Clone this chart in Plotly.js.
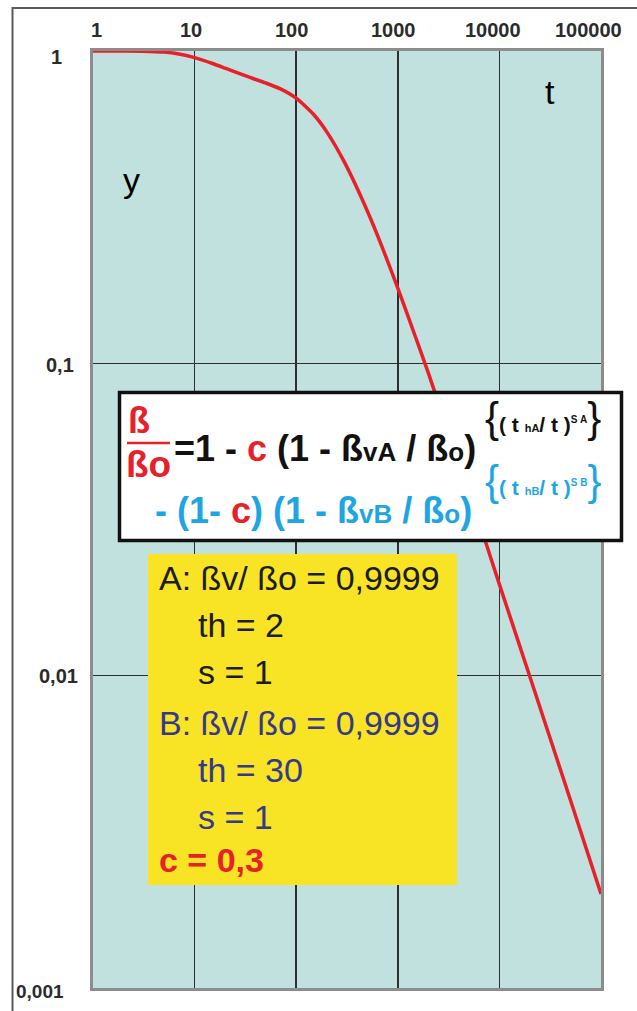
<!DOCTYPE html>
<html>
<head>
<meta charset="utf-8">
<script src="https://cdn.plot.ly/plotly-3.0.1.min.js"></script>
<style>
  html, body { margin: 0; padding: 0; background: #ffffff; }
  #chart { width: 637px; height: 1011px; }
</style>
</head>
<body>
<div id="chart"></div>
<script>
// Time t (log axis) and relative value ß/ßo of the two-component decay curve
const tValues = [1, 2, 3, 5, 7, 10, 15, 20, 30, 50, 70, 100, 150, 200, 300, 500, 700,
                 1000, 1500, 2000, 3000, 5000, 7000, 10000, 20000, 50000, 100000];
const yValues = [1.0, 1.0, 0.999, 0.992, 0.978, 0.952, 0.912, 0.881, 0.838, 0.790, 0.756,
                 0.706, 0.624, 0.551, 0.439, 0.308, 0.236, 0.174, 0.121, 0.093, 0.063,
                 0.039, 0.028, 0.0196, 0.0099, 0.0040, 0.0020];

// Tick labels (decimal comma)
const xTickValues = [1, 10, 100, 1000, 10000, 100000];
const xTickLabels = ['1', '10', '100', '1000', '10000', '100000'];
const yTickValues = [1, 0.1, 0.01, 0.001];
const yTickLabels = ['1', '0,1', '0,01', '0,001'];

// Parameter box lines
const paramLinesA = ['A: ßv/ ßo = 0,9999', 'th = 2', 's = 1'];
const paramLinesB = ['B: ßv/ ßo = 0,9999', 'th = 30', 's = 1'];
const paramC = 'c = 0,3';

// Page geometry
const W = 637, H = 1011;
const M = { l: 93, r: 36, t: 51, b: 23 };
const PW = W - M.l - M.r, PH = H - M.t - M.b;
const px = X => (X - M.l) / PW;          // pixel x -> paper x
const py = Y => (H - M.b - Y) / PH;      // pixel y -> paper y

const RED = '#e8202a';
const BLUE = '#1ea6e2';
const NAVY = '#35398c';
const FONT = 'Liberation Sans, Arial, sans-serif';

const annotations = [];

// Axis labels along the top and left
xTickValues.forEach((v, i) => {
  annotations.push({
    xref: 'x', yref: 'paper', x: Math.log10(v), y: py(30),
    xanchor: 'center', yanchor: 'middle', showarrow: false,
    xshift: [3, -4, -5, -4, -6, -13][i],
    text: '<b>' + xTickLabels[i] + '</b>',
    font: { family: FONT, size: 20, color: '#2b2b2b' }
  });
});
yTickValues.forEach((v, i) => {
  annotations.push({
    xref: 'paper', yref: 'y', x: px([64, 76, 80, 66][i]), y: Math.log10(v),
    xanchor: 'right', yanchor: 'middle', showarrow: false,
    yshift: [-6, -2, 0, -3][i],
    text: '<b>' + yTickLabels[i] + '</b>',
    font: { family: FONT, size: [20, 20, 20, 19][i], color: '#2b2b2b' }
  });
});

// Axis names inside the plot
annotations.push({ xref: 'paper', yref: 'paper', x: px(550), y: py(92), showarrow: false,
  xanchor: 'center', yanchor: 'middle', text: 't', font: { family: FONT, size: 34, color: '#000' } });
annotations.push({ xref: 'paper', yref: 'paper', x: px(131), y: py(180), showarrow: false,
  xanchor: 'center', yanchor: 'middle', text: 'y', font: { family: FONT, size: 34, color: '#000' } });

// Formula: fraction ß / ßo
annotations.push({ xref: 'paper', yref: 'paper', x: px(139), y: py(420), showarrow: false,
  xanchor: 'center', yanchor: 'middle', text: '<b>ß</b>', font: { family: FONT, size: 36, color: RED } });
annotations.push({ xref: 'paper', yref: 'paper', x: px(148), y: py(464), showarrow: false,
  xanchor: 'center', yanchor: 'middle', text: '<b>ßo</b>', font: { family: FONT, size: 37, color: RED } });

// Formula line 1
annotations.push({ xref: 'paper', yref: 'paper', x: px(172), y: py(448), showarrow: false,
  xanchor: 'left', yanchor: 'middle',
  text: '<b>=1 - <span style="color:' + RED + '">c</span> (1 - ß<span style="font-size:26px">vA</span> / ß<span style="font-size:26px">o</span>)</b>',
  font: { family: FONT, size: 36, color: '#111' } });
annotations.push({ xref: 'paper', yref: 'paper', x: px(483), y: py(417), showarrow: false,
  xanchor: 'left', yanchor: 'middle',
  text: '<span style="font-size:42px">{</span><b>( t <span style="font-size:11px">hA</span>/ t )<sup><span style="font-size:10px">S A</span></sup></b><span style="font-size:42px">}</span>',
  font: { family: FONT, size: 21, color: '#111' } });

// Formula line 2
annotations.push({ xref: 'paper', yref: 'paper', x: px(153), y: py(510), showarrow: false,
  xanchor: 'left', yanchor: 'middle',
  text: '<b>- (1- <span style="color:' + RED + '">c</span>) (1 - ß<span style="font-size:26px">vB</span> / ß<span style="font-size:26px">o</span>)</b>',
  font: { family: FONT, size: 36, color: BLUE } });
annotations.push({ xref: 'paper', yref: 'paper', x: px(483), y: py(480), showarrow: false,
  xanchor: 'left', yanchor: 'middle',
  text: '<span style="font-size:42px">{</span><b>( t <span style="font-size:11px">hB</span>/ t )<sup><span style="font-size:10px">S B</span></sup></b><span style="font-size:42px">}</span>',
  font: { family: FONT, size: 21, color: BLUE } });

// Parameter box text
const paramRows = [
  { text: paramLinesA[0], x: 157, y: 578, color: '#1c1c1c' },
  { text: paramLinesA[1], x: 196, y: 625, color: '#1c1c1c' },
  { text: paramLinesA[2], x: 196, y: 672, color: '#1c1c1c' },
  { text: paramLinesB[0], x: 157, y: 723, color: NAVY },
  { text: paramLinesB[1], x: 196, y: 770, color: NAVY },
  { text: paramLinesB[2], x: 196, y: 817, color: NAVY },
  { text: '<b>' + paramC + '</b>', x: 157, y: 860, color: RED }
];
paramRows.forEach(r => annotations.push({
  xref: 'paper', yref: 'paper', x: px(r.x), y: py(r.y), showarrow: false,
  xanchor: 'left', yanchor: 'middle', text: r.text,
  font: { family: FONT, size: 34, color: r.color }
}));

const shapes = [
  // outer frame of the figure
  { type: 'rect', xref: 'paper', yref: 'paper', x0: px(12.5), x1: px(700), y0: py(1100), y1: py(8),
    line: { color: '#5a5a5a', width: 2 }, fillcolor: 'rgba(0,0,0,0)', layer: 'below' },
  // formula box
  { type: 'rect', xref: 'paper', yref: 'paper', x0: px(119.5), x1: px(621.5), y0: py(540.5), y1: py(392.5),
    line: { color: '#111', width: 3.5 }, fillcolor: '#ffffff', layer: 'above' },
  // fraction bar
  { type: 'line', xref: 'paper', yref: 'paper', x0: px(127), x1: px(170), y0: py(443), y1: py(443),
    line: { color: RED, width: 2.5 }, layer: 'above' },
  // parameter box
  { type: 'rect', xref: 'paper', yref: 'paper', x0: px(148), x1: px(457), y0: py(885), y1: py(554),
    line: { width: 0 }, fillcolor: '#f8e425', layer: 'above' }
];

const trace = {
  type: 'scatter', mode: 'lines', x: tValues, y: yValues,
  line: { color: RED, width: 3.5, shape: 'spline', smoothing: 0.6 },
  hoverinfo: 'skip'
};

const layout = {
  width: W, height: H,
  margin: M,
  paper_bgcolor: '#ffffff',
  plot_bgcolor: '#c0e1de',
  showlegend: false,
  xaxis: {
    type: 'log', range: [0, 5], dtick: 1, side: 'top',
    showgrid: true, gridcolor: '#2e2e2e', gridwidth: 1.6,
    showline: true, mirror: true, linecolor: '#8c8c8c', linewidth: 3,
    ticks: '', showticklabels: false, zeroline: false, layer: 'below traces', fixedrange: true
  },
  yaxis: {
    type: 'log', range: [-3, 0], dtick: 1,
    showgrid: true, gridcolor: '#2e2e2e', gridwidth: 1.6,
    showline: true, mirror: true, linecolor: '#8c8c8c', linewidth: 3,
    ticks: '', showticklabels: false, zeroline: false, layer: 'below traces', fixedrange: true
  },
  shapes: shapes,
  annotations: annotations
};

Plotly.newPlot('chart', [trace], layout, { displayModeBar: false, staticPlot: true });
</script>
</body>
</html>
